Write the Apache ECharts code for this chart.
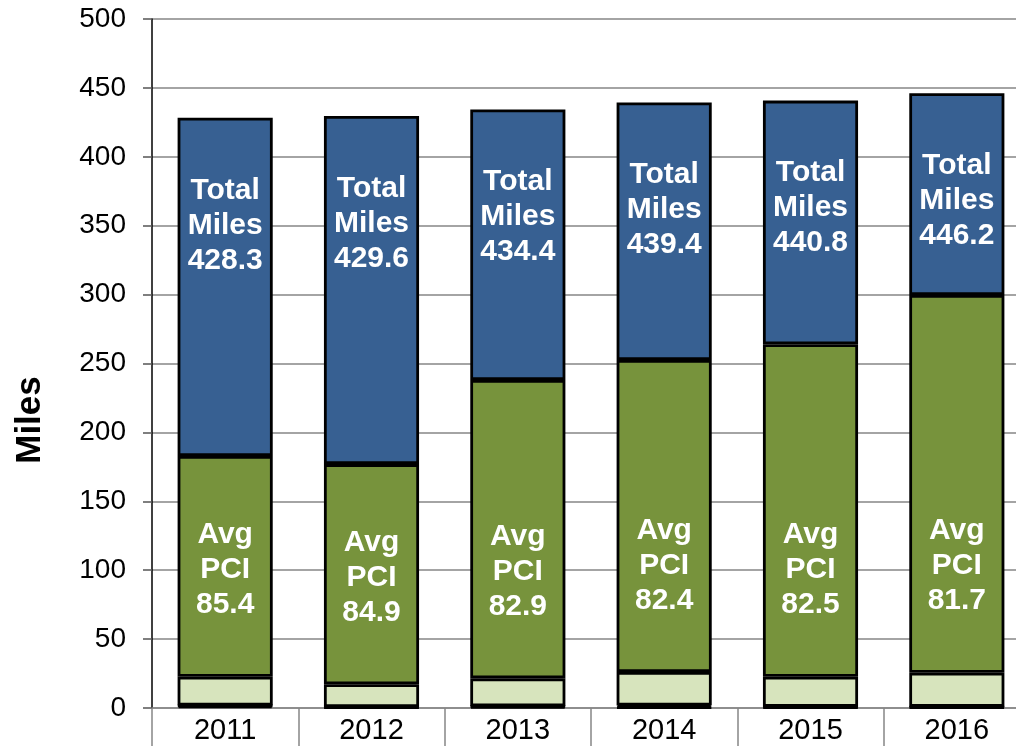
<!DOCTYPE html>
<html>
<head>
<meta charset="utf-8">
<script src="https://cdn.jsdelivr.net/npm/echarts@6/dist/echarts.min.js"></script>
<style>
  html, body { margin: 0; padding: 0; background: #fff; }
  #chart { width: 1016px; height: 746px; }
</style>
</head>
<body>
<div id="chart"></div>
<script>
// data (miles per condition band)
const years = ["2011", "2012", "2013", "2014", "2015", "2016"];
const failedMiles = [1.5, 0.4, 1.0, 0.5, 0.5, 0.5];
const poorMiles = [0.3, 0.3, 0.3, 1.3, 0.3, 0.3];
const fairMiles = [20.9, 16.5, 20.2, 24.3, 21.9, 24.8];
const goodMiles = [160.2, 159.8, 216.5, 226.4, 241.3, 274.1];
const restMiles = [245.4, 252.6, 196.4, 186.9, 176.8, 146.5];
const totalMiles = ["428.3", "429.6", "434.4", "439.4", "440.8", "446.2"];
const avgPci = ["85.4", "84.9", "82.9", "82.4", "82.5", "81.7"];
const yTicks = [0, 50, 100, 150, 200, 250, 300, 350, 400, 450, 500];

const chart = echarts.init(document.getElementById("chart"));

// shared bar look
const border = { borderColor: "#000", borderWidth: 2.8 };
const labelFont = {
  color: "#fff",
  fontFamily: "Liberation Sans, Arial",
  fontWeight: "bold",
  fontSize: 30,
  lineHeight: 35,
  align: "center",
};

const mkSeries = (name, data, color, label) => ({
  name,
  type: "bar",
  stack: "miles",
  barWidth: "65%",
  data,
  itemStyle: { color, ...border },
  label: label || { show: false },
});

const option = {
  animation: false,
  textStyle: { fontFamily: "Liberation Sans, Arial" },
  grid: {
    left: 152,
    top: 19,
    bottom: 38,
    width: 878,
    containLabel: false,
    outerBoundsMode: "none",
  },
  xAxis: {
    type: "category",
    data: years,
    axisLine: { lineStyle: { color: "#868686", width: 1.5 } },
    axisTick: { show: true, length: 40, lineStyle: { color: "#868686", width: 1.5 } },
    axisLabel: { color: "#000", fontSize: 29, margin: 8 },
  },
  yAxis: {
    type: "value",
    min: yTicks[0],
    max: yTicks[yTicks.length - 1],
    interval: yTicks[1] - yTicks[0],
    axisLine: { show: true, lineStyle: { color: "#000", width: 1.5 } },
    axisTick: { show: true, length: 9, lineStyle: { color: "#555", width: 1.5 } },
    axisLabel: { color: "#000", fontSize: 28, margin: 26 },
    splitLine: { lineStyle: { color: "#868686", width: 1.5 } },
  },
  graphic: [
    {
      type: "text",
      x: 30,
      y: 420,
      rotation: Math.PI / 2,
      style: {
        text: "Miles",
        fill: "#000",
        font: "bold 35px Liberation Sans, Arial",
        align: "center",
        verticalAlign: "middle",
      },
    },
  ],
  series: [
    mkSeries("Failed", failedMiles, "#632523"),
    mkSeries("Poor", poorMiles, "#FF6600"),
    mkSeries("Fair", fairMiles, "#D7E4BD"),
    mkSeries("Good", goodMiles, "#77933C", {
      show: true,
      position: "insideBottom",
      distance: 54,
      ...labelFont,
      formatter: (p) => "Avg\nPCI\n" + avgPci[p.dataIndex],
    }),
    mkSeries("Rest", restMiles, "#376092", {
      show: true,
      position: "insideTop",
      distance: 55,
      ...labelFont,
      formatter: (p) => "Total\nMiles\n" + totalMiles[p.dataIndex],
    }),
  ],
};

chart.setOption(option);
</script>
</body>
</html>
